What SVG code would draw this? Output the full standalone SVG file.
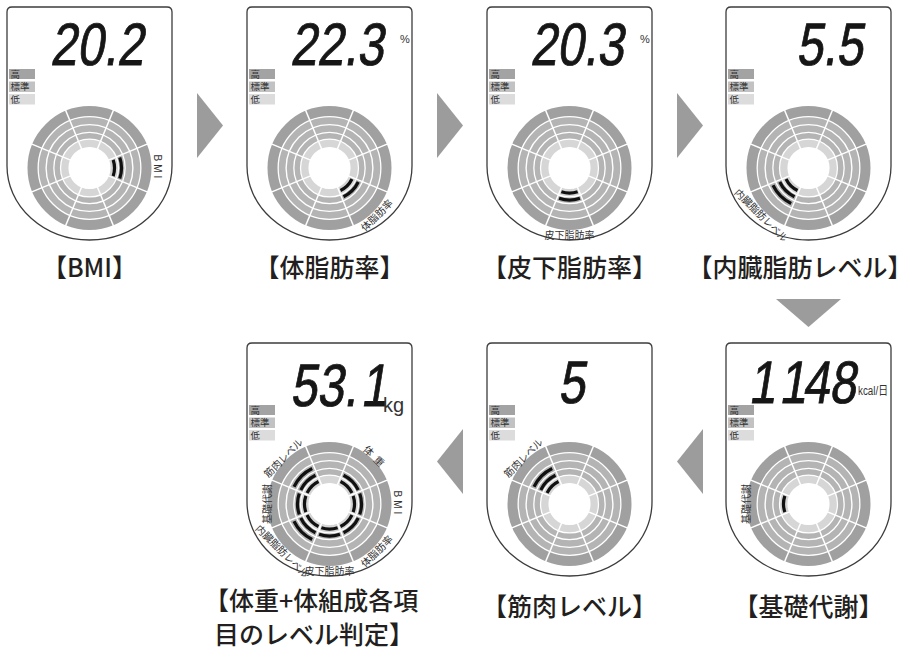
<svg xmlns="http://www.w3.org/2000/svg" width="912" height="651" viewBox="0 0 912 651">
<style>
.frame{fill:#fff;stroke:#3c3c3c;stroke-width:1.3}
.lcd{font-family:"Liberation Sans",Arial,sans-serif;font-size:60px;fill:#161616;stroke:#161616;stroke-width:0.9}
.unit{font-family:"Liberation Sans","Noto Sans CJK JP",sans-serif;fill:#333}
.lg{font-family:"Noto Sans CJK JP",sans-serif;font-size:9.5px;fill:#333}
.seg{font-family:"Noto Sans CJK JP",sans-serif;font-size:10px;fill:#333;text-anchor:middle;dominant-baseline:central}
.cap{font-family:"Noto Sans CJK JP",sans-serif;font-size:25px;fill:#231f20;font-weight:500}
.bar{fill:none;stroke:#111;stroke-width:3.2}
.arr{fill:#9c9c9c}
.hi{fill:#a3a3a3}.mid{fill:#c2c2c2}.lo{fill:#dcdcdc}
</style>
<defs>
<g id="gauge">
<circle r="57" fill="none" stroke="#a0a0a0" stroke-width="10"/>
<circle r="47.4" fill="none" stroke="#b4b4b4" stroke-width="6.6"/>
<circle r="39.5" fill="none" stroke="#b4b4b4" stroke-width="6.4"/>
<circle r="32.3" fill="none" stroke="#b4b4b4" stroke-width="5.4"/>
<circle r="24.7" fill="none" stroke="#d6d6d6" stroke-width="7.3"/>
<g stroke="#fff" stroke-width="1.5">
<line x1="24.11" y1="-58.21" x2="-24.11" y2="58.21"/>
<line x1="58.21" y1="-24.11" x2="-58.21" y2="24.11"/>
<line x1="58.21" y1="24.11" x2="-58.21" y2="-24.11"/>
<line x1="24.11" y1="58.21" x2="-24.11" y2="-58.21"/>
</g>
<circle r="20.6" fill="#fff"/>
</g>
<path id="a25" class="bar" d="M-8.14,-23.64 A25,25 0 0 1 8.14,-23.64"/>
<path id="a32" class="bar" d="M-10.42,-30.26 A32,32 0 0 1 10.42,-30.26"/>
<path id="a39" class="bar" d="M-12.86,-37.35 A39.5,39.5 0 0 1 12.86,-37.35"/>
<path id="frame" class="frame" d="M7,12 Q7,7 12,7 H167 Q172,7 172,12 V166 A82.5,74 0 0 1 89.5,240 A82.5,74 0 0 1 7,166 Z"/>
</defs>

<g id="panel-bmi">
<use href="#frame"/>
<rect class="hi" x="9" y="69" width="26" height="10"/><rect class="mid" x="9" y="81.5" width="26" height="10.5"/><rect class="lo" x="9" y="94" width="26" height="10.5"/>
<text class="lg" x="10.5" y="77.8">高</text><text class="lg" x="10.5" y="90.2" font-size="8">標準</text><text class="lg" x="10.5" y="103">低</text>
<text class="lcd" transform="translate(50,65) skewX(-9) scale(0.8,1)">20.2</text>
<use href="#gauge" x="89.5" y="168"/>
<use href="#a25" transform="translate(89.5,168) rotate(90)"/>
<use href="#a32" transform="translate(89.5,168) rotate(90)"/>
<text class="seg" style="font-family:'Liberation Sans',sans-serif" letter-spacing="3" transform="translate(157,168) rotate(90)">BMI</text>
</g>

<g id="panel-bodyfat" transform="translate(240,0)">
<use href="#frame"/>
<rect class="hi" x="9" y="69" width="26" height="10"/><rect class="mid" x="9" y="81.5" width="26" height="10.5"/><rect class="lo" x="9" y="94" width="26" height="10.5"/>
<text class="lg" x="10.5" y="77.8">高</text><text class="lg" x="10.5" y="90.2" font-size="8">標準</text><text class="lg" x="10.5" y="103">低</text>
<text class="lcd" transform="translate(50,65) skewX(-9) scale(0.8,1)">22.3</text>
<text class="unit" x="160" y="43" font-size="11">%</text>
<use href="#gauge" x="89.5" y="168"/>
<use href="#a25" transform="translate(89.5,168) rotate(135)"/>
<use href="#a32" transform="translate(89.5,168) rotate(135)"/>
<text class="seg" transform="translate(136.2,214.7) rotate(-45)">体脂肪率</text>
</g>

<g id="panel-subcut" transform="translate(480,0)">
<use href="#frame"/>
<rect class="hi" x="9" y="69" width="26" height="10"/><rect class="mid" x="9" y="81.5" width="26" height="10.5"/><rect class="lo" x="9" y="94" width="26" height="10.5"/>
<text class="lg" x="10.5" y="77.8">高</text><text class="lg" x="10.5" y="90.2" font-size="8">標準</text><text class="lg" x="10.5" y="103">低</text>
<text class="lcd" transform="translate(50,65) skewX(-9) scale(0.8,1)">20.3</text>
<text class="unit" x="160" y="43" font-size="11">%</text>
<use href="#gauge" x="89.5" y="168"/>
<use href="#a25" transform="translate(89.5,168) rotate(180)"/>
<use href="#a32" transform="translate(89.5,168) rotate(180)"/>
<text class="seg" font-size="9.5" transform="translate(89.5,234)">皮下脂肪率</text>
</g>

<g id="panel-visceral" transform="translate(719,0)">
<use href="#frame"/>
<rect class="hi" x="9" y="69" width="26" height="10"/><rect class="mid" x="9" y="81.5" width="26" height="10.5"/><rect class="lo" x="9" y="94" width="26" height="10.5"/>
<text class="lg" x="10.5" y="77.8">高</text><text class="lg" x="10.5" y="90.2" font-size="8">標準</text><text class="lg" x="10.5" y="103">低</text>
<text class="lcd" transform="translate(77,65) skewX(-9) scale(0.8,1)">5.5</text>
<use href="#gauge" x="89.5" y="168"/>
<use href="#a25" transform="translate(89.5,168) rotate(225)"/>
<use href="#a32" transform="translate(89.5,168) rotate(225)"/>
<use href="#a39" transform="translate(89.5,168) rotate(225)"/>
<text class="seg" font-size="8.5" transform="translate(42.8,214.7) rotate(45)">内臓脂肪レベル</text>
</g>

<g id="panel-all" transform="translate(240,336)">
<use href="#frame"/>
<rect class="hi" x="9" y="69" width="26" height="10"/><rect class="mid" x="9" y="81.5" width="26" height="10.5"/><rect class="lo" x="9" y="94" width="26" height="10.5"/>
<text class="lg" x="10.5" y="77.8">高</text><text class="lg" x="10.5" y="90.2" font-size="8">標準</text><text class="lg" x="10.5" y="103">低</text>
<text class="lcd" font-size="66" transform="translate(50,70) skewX(-9) scale(0.8,1)">53.<tspan x="88">1</tspan></text>
<text class="unit" x="143" y="76" font-size="20">kg</text>
<use href="#gauge" x="89.5" y="168"/>
<g transform="translate(89.5,168)">
<use href="#a25" transform="rotate(45)"/><use href="#a32" transform="rotate(45)"/>
<use href="#a25" transform="rotate(90)"/><use href="#a32" transform="rotate(90)"/>
<use href="#a25" transform="rotate(135)"/><use href="#a32" transform="rotate(135)"/>
<use href="#a25" transform="rotate(180)"/><use href="#a32" transform="rotate(180)"/>
<use href="#a25" transform="rotate(225)"/><use href="#a32" transform="rotate(225)"/><use href="#a39" transform="rotate(225)"/>
<use href="#a25" transform="rotate(270)"/><use href="#a32" transform="rotate(270)"/>
<use href="#a25" transform="rotate(315)"/><use href="#a32" transform="rotate(315)"/><use href="#a39" transform="rotate(315)"/>
</g>
<text class="seg" letter-spacing="5" transform="translate(136.2,121.3) rotate(45)">体重</text>
<text class="seg" style="font-family:'Liberation Sans',sans-serif" letter-spacing="3" transform="translate(157,168) rotate(90)">BMI</text>
<text class="seg" transform="translate(136.2,214.7) rotate(-45)">体脂肪率</text>
<text class="seg" font-size="9.5" transform="translate(89.5,234)">皮下脂肪率</text>
<text class="seg" font-size="8.5" transform="translate(42.8,214.7) rotate(45)">内臓脂肪レベル</text>
<text class="seg" transform="translate(26.5,168) rotate(-90)">基礎代謝</text>
<text class="seg" font-size="9.5" transform="translate(42.8,121.3) rotate(-45)">筋肉レベル</text>
</g>

<g id="panel-muscle" transform="translate(480,336)">
<use href="#frame"/>
<rect class="hi" x="9" y="69" width="26" height="10"/><rect class="mid" x="9" y="81.5" width="26" height="10.5"/><rect class="lo" x="9" y="94" width="26" height="10.5"/>
<text class="lg" x="10.5" y="77.8">高</text><text class="lg" x="10.5" y="90.2" font-size="8">標準</text><text class="lg" x="10.5" y="103">低</text>
<text class="lcd" transform="translate(78,67) skewX(-9) scale(0.8,1)">5</text>
<use href="#gauge" x="89.5" y="168"/>
<use href="#a25" transform="translate(89.5,168) rotate(315)"/>
<use href="#a32" transform="translate(89.5,168) rotate(315)"/>
<use href="#a39" transform="translate(89.5,168) rotate(315)"/>
<text class="seg" font-size="9.5" transform="translate(42.8,121.3) rotate(-45)">筋肉レベル</text>
</g>

<g id="panel-bmr" transform="translate(719,336)">
<use href="#frame"/>
<rect class="hi" x="9" y="69" width="26" height="10"/><rect class="mid" x="9" y="81.5" width="26" height="10.5"/><rect class="lo" x="9" y="94" width="26" height="10.5"/>
<text class="lg" x="10.5" y="77.8">高</text><text class="lg" x="10.5" y="90.2" font-size="8">標準</text><text class="lg" x="10.5" y="103">低</text>
<text class="lcd" transform="translate(20,67) skewX(-9) scale(0.8,1)"><tspan x="12">1</tspan><tspan x="50">1</tspan><tspan x="79">48</tspan></text>
<text class="unit" x="139" y="59" font-size="12" textLength="30" lengthAdjust="spacingAndGlyphs">kcal/日</text>
<use href="#gauge" x="89.5" y="168"/>
<use href="#a25" transform="translate(89.5,168) rotate(270)"/>
<text class="seg" transform="translate(26.5,168) rotate(-90)">基礎代謝</text>
</g>

<g id="connectors">
<polygon class="arr" points="197,93 223,125.5 197,158"/>
<polygon class="arr" points="437,93 463,125.5 437,158"/>
<polygon class="arr" points="677,93 703,125.5 677,158"/>
<polygon class="arr" points="776,299 841,299 808.5,327"/>
<polygon class="arr" points="703,429 677,461.5 703,494"/>
<polygon class="arr" points="463,429 437,461.5 463,494"/>
</g>

<g id="captions">
<text class="cap" x="89.5" y="277" text-anchor="middle">【BMI】</text>
<text class="cap" x="329.5" y="277" text-anchor="middle">【体脂肪率】</text>
<text class="cap" x="569.5" y="277" text-anchor="middle">【皮下脂肪率】</text>
<text class="cap" font-size="23" x="800" y="277" text-anchor="middle">【内臓脂肪レベル】</text>
<text class="cap" x="569.5" y="616" text-anchor="middle">【筋肉レベル】</text>
<text class="cap" x="808.5" y="616" text-anchor="middle">【基礎代謝】</text>
<text class="cap" font-size="23.5"><tspan x="204" y="610">【体重+体組成各項</tspan><tspan x="214" y="644.2">目のレベル判定】</tspan></text>
</g>
</svg>
